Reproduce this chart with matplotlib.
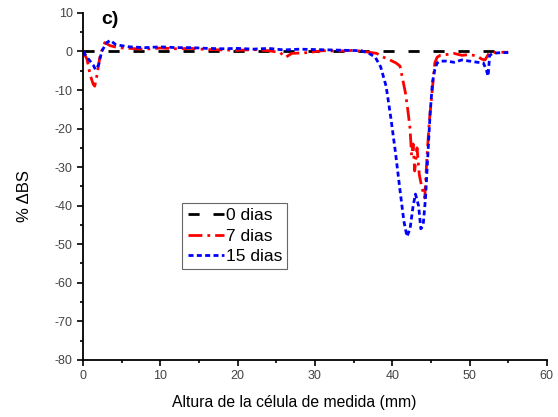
import numpy as np
import matplotlib.pyplot as plt
from matplotlib.ticker import MultipleLocator

plt.rcParams['font.family'] = ['Liberation Sans', 'DejaVu Sans']
plt.rcParams['axes.unicode_minus'] = False

# 0 dias
x0 = [0, 55]
y0 = [0, 0]

# 7 dias
x7 = [0, 0.5, 0.9, 1.3, 1.5, 1.8, 2.2, 2.8, 3.5, 4.5, 6, 8, 10, 12, 14, 16, 18, 20, 22,
      24, 25.5, 26.2, 27, 29, 31, 33, 35, 37, 38, 38.5, 39.5, 40.5, 41, 41.7, 42.0, 42.3,
      42.5, 42.7, 42.9, 43.2, 43.5, 43.8, 44.2, 44.5, 44.8, 45.1, 45.5, 45.8, 46.2,
      47, 48, 49, 50, 51, 51.6, 52.0, 52.5, 53, 54, 55]
y7 = [0, -2, -6, -8.5, -9, -6, -1, 2.3, 1.5, 1.0, 0.8, 0.6, 0.9, 0.7, 0.8, 0.5, 0.4,
      0.3, 0.5, 0.2, -0.3, -1.5, -0.5, -0.3, 0.2, 0.1, 0.3, -0.2, -0.5, -1.2, -2, -3,
      -3.8, -10.7, -15, -20, -27, -24, -31, -25, -32, -35, -38, -27, -18, -11.6, -3,
      -1.5, -1, -0.8, -0.5, -1, -0.8, -1.2, -2, -2.2, -0.5, -0.3, -0.2, -0.2]

# 15 dias
x15 = [0, 0.5, 0.9, 1.3, 1.6, 2.0, 2.4, 3.0, 3.5, 4.2, 5, 6, 8, 10, 12, 14, 16, 18, 20,
       22, 24, 26, 28, 30, 32, 34, 36, 37, 37.8, 38.5, 39.2, 39.8, 40.4, 41.0, 41.5,
       41.9, 42.3, 42.7, 43.0, 43.4, 43.7, 44.0, 44.3, 44.6, 44.9, 45.2, 45.5, 45.8,
       46.2, 47, 48, 49, 50, 51, 51.8, 52.2, 52.4, 52.6, 53, 54, 55]
y15 = [0, -1.5, -2.5, -3.5, -4.7, -3.5, 0, 2.2, 2.9, 1.8, 1.5, 1.2, 1.0, 1.2, 1.0, 1.0,
       0.8, 0.7, 0.8, 0.6, 0.8, 0.4, 0.6, 0.5, 0.4, 0.3, 0.2, -0.5, -1.5, -4, -9, -17,
       -26, -36, -44, -48, -46, -40, -37, -40, -46, -45, -38, -27, -16, -8, -4.7, -3,
       -2.5, -2.5, -2.8, -2.2, -2.5, -2.8, -3, -5, -6.4, -1, -0.5, -0.3, -0.3]

fig = plt.figure(figsize=(5.58, 4.17), dpi=100)
ax = fig.add_axes([0.149, 0.137, 0.831, 0.832])

ax.plot(x0, y0, color='black', lw=2, dashes=(4, 5), label='0 dias')
ax.plot(x7, y7, color='red', lw=2, dashes=(5, 1.8, 1, 1.8), label='7 dias')
ax.plot(x15, y15, color='blue', lw=2, dashes=(1.8, 1.2), label='15 dias')

ax.set_xlim(0, 60)
ax.set_ylim(-80, 10)
ax.xaxis.set_major_locator(MultipleLocator(10))
ax.xaxis.set_minor_locator(MultipleLocator(5))
ax.yaxis.set_major_locator(MultipleLocator(10))
ax.yaxis.set_minor_locator(MultipleLocator(5))

for side in ['top', 'right']:
    ax.spines[side].set_visible(False)
for side in ['left', 'bottom']:
    ax.spines[side].set_linewidth(1.3)
ax.tick_params(which='major', length=4.5, width=1.2, labelsize=9, labelcolor='#444444', pad=3)
ax.tick_params(which='minor', length=2.2, width=1.2)

ax.set_xlabel('Altura de la célula de medida (mm)', fontsize=11.3)
ax.set_ylabel('% ΔBS', fontsize=12)
ax.xaxis.set_label_coords(0.455, -0.1)
ax.yaxis.set_label_coords(-0.11, 0.473)
ax.text(0.04, 0.98, 'c)', transform=ax.transAxes, fontsize=14, fontweight='bold',
        va='center', ha='left')

leg = ax.legend(loc='upper left', bbox_to_anchor=(0.214, 0.452), fontsize=12.5,
                handlelength=2.1, handletextpad=0.1, borderpad=0.3, labelspacing=0.3,
                borderaxespad=0, fancybox=False, framealpha=1, edgecolor='#666666')
leg.get_frame().set_linewidth(0.8)

fig.savefig('out.png', dpi=100)
